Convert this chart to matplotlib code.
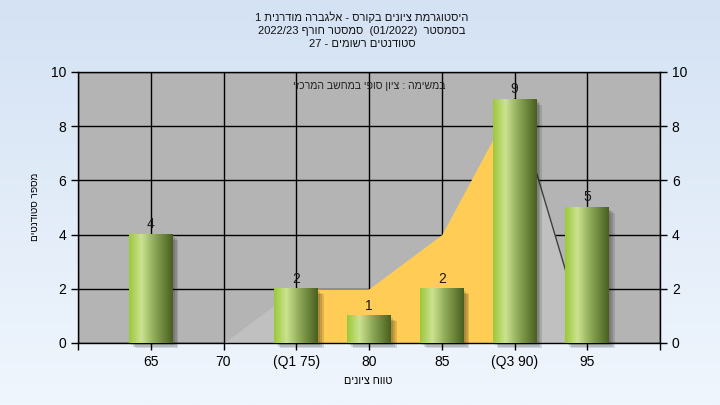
import re
import numpy as np
import matplotlib
matplotlib.use('Agg')
import matplotlib.pyplot as plt
from matplotlib.colors import LinearSegmentedColormap
from matplotlib.patches import Rectangle

# data
categories = ['65', '70', '(Q1 75)', '80', '85', '(Q3 90)', '95']
counts = [4, 0, 2, 1, 2, 9, 5]
curve = [0, 0, 2, 2, 4, 9, 0]
q1_idx, q3_idx = 2, 5

title_lines = ['היסטוגרמת ציונים בקורס - אלגברה מודרנית 1',
               'בסמסטר  (01/2022)  סמסטר חורף 2022/23',
               'סטודנטים רשומים - 27']
note = 'במשימה : ציון סופי במחשב המרכזי'
xlabel = 'טווח ציונים'
ylabel = 'מספר סטודנטים'


def rtl(s):
    # crude visual ordering for hebrew text: reverse, then put ltr runs back
    r = s[::-1]
    r = re.sub(r'[0-9A-Za-z/.]+', lambda m: m.group(0)[::-1], r)
    return r.translate(str.maketrans('()', ')('))


plt.rcParams['font.family'] = ['Liberation Sans', 'DejaVu Sans']

fig = plt.figure(figsize=(7.2, 4.05), dpi=100)

# light blue background gradient
bg = fig.add_axes([0, 0, 1, 1], zorder=-10)
bg_cmap = LinearSegmentedColormap.from_list('bg', ['#d4e2f4', '#f0f6fd'])
bg.imshow(np.linspace(0, 1, 256).reshape(-1, 1), aspect='auto', cmap=bg_cmap,
          extent=(0, 1, 0, 1))
bg.axis('off')

ax = fig.add_axes([78 / 720, 1 - 343 / 405, 582 / 720, 271 / 405])
ax.set_facecolor('#b4b4b4')
x = np.arange(len(categories))

# distribution area: grey outside the quartiles, yellow between
ax.fill_between(x[:q1_idx + 1], curve[:q1_idx + 1], color='#c0c0c0', lw=0, zorder=1)
ax.fill_between(x[q3_idx:], curve[q3_idx:], color='#c0c0c0', lw=0, zorder=1)
ax.fill_between(x[q1_idx:q3_idx + 1], curve[q1_idx:q3_idx + 1], color='#ffcc55', lw=0, zorder=1.1)
ax.plot(x[q3_idx:], curve[q3_idx:], color='#404040', lw=1, zorder=1.2)

# bars with a cylinder-like gradient and soft shadow
bar_cmap = LinearSegmentedColormap.from_list(
    'bar', [(0, '#9cc83a'), (0.28, '#cbe390'), (0.6, '#8aa554'), (1, '#495f1f')])
grad = np.linspace(0, 1, 128).reshape(1, -1)
w = 0.6
for xi, h in zip(x, counts):
    if h == 0:
        continue
    x0 = xi - w / 2
    for k, a in enumerate([0.12, 0.12, 0.12]):
        d = 0.03 + 0.025 * k
        ax.add_patch(Rectangle((x0 + d, -d * 2.5), w, h, color='black', alpha=a,
                               lw=0, zorder=2.5, clip_on=False))
    ax.imshow(grad, extent=(x0, x0 + w, 0, h), aspect='auto', cmap=bar_cmap,
              zorder=3, interpolation='bilinear')
    ax.text(xi, h + 0.12, str(h), ha='center', va='bottom', fontsize=10,
            color='#1a1a1a', zorder=4)

ax.set_xlim(-1, 7)
ax.set_ylim(0, 10)
ax.set_xticks(range(-1, 8))
ax.set_xticklabels([''] + categories + [''])
ax.set_yticks(range(0, 11, 2))
ax.grid(True, color='black', lw=1, zorder=0.5)
ax.set_axisbelow(True)
ax.tick_params(direction='out', length=5, width=1, labelsize=10, colors='black')
ax.tick_params(axis='y', right=True, labelright=True)
for sp in ax.spines.values():
    sp.set_color('black')
    sp.set_linewidth(1)

ax.text(0.5, 0.948, rtl(note), transform=ax.transAxes, ha='center', va='center',
        fontsize=7.6, color='#222222', zorder=5)

fig.text(0.503, 0.972, '\n'.join(rtl(t) for t in title_lines), ha='center', va='top',
         fontsize=8, linespacing=1.35, color='#111111')
fig.text(368 / 720, 1 - 381 / 405, rtl(xlabel), ha='center', va='center', fontsize=7.8)
fig.text(35 / 720, 1 - 207 / 405, rtl(ylabel), ha='center', va='center', fontsize=7.2,
         rotation=90)

fig.savefig('out.png', dpi=100)
